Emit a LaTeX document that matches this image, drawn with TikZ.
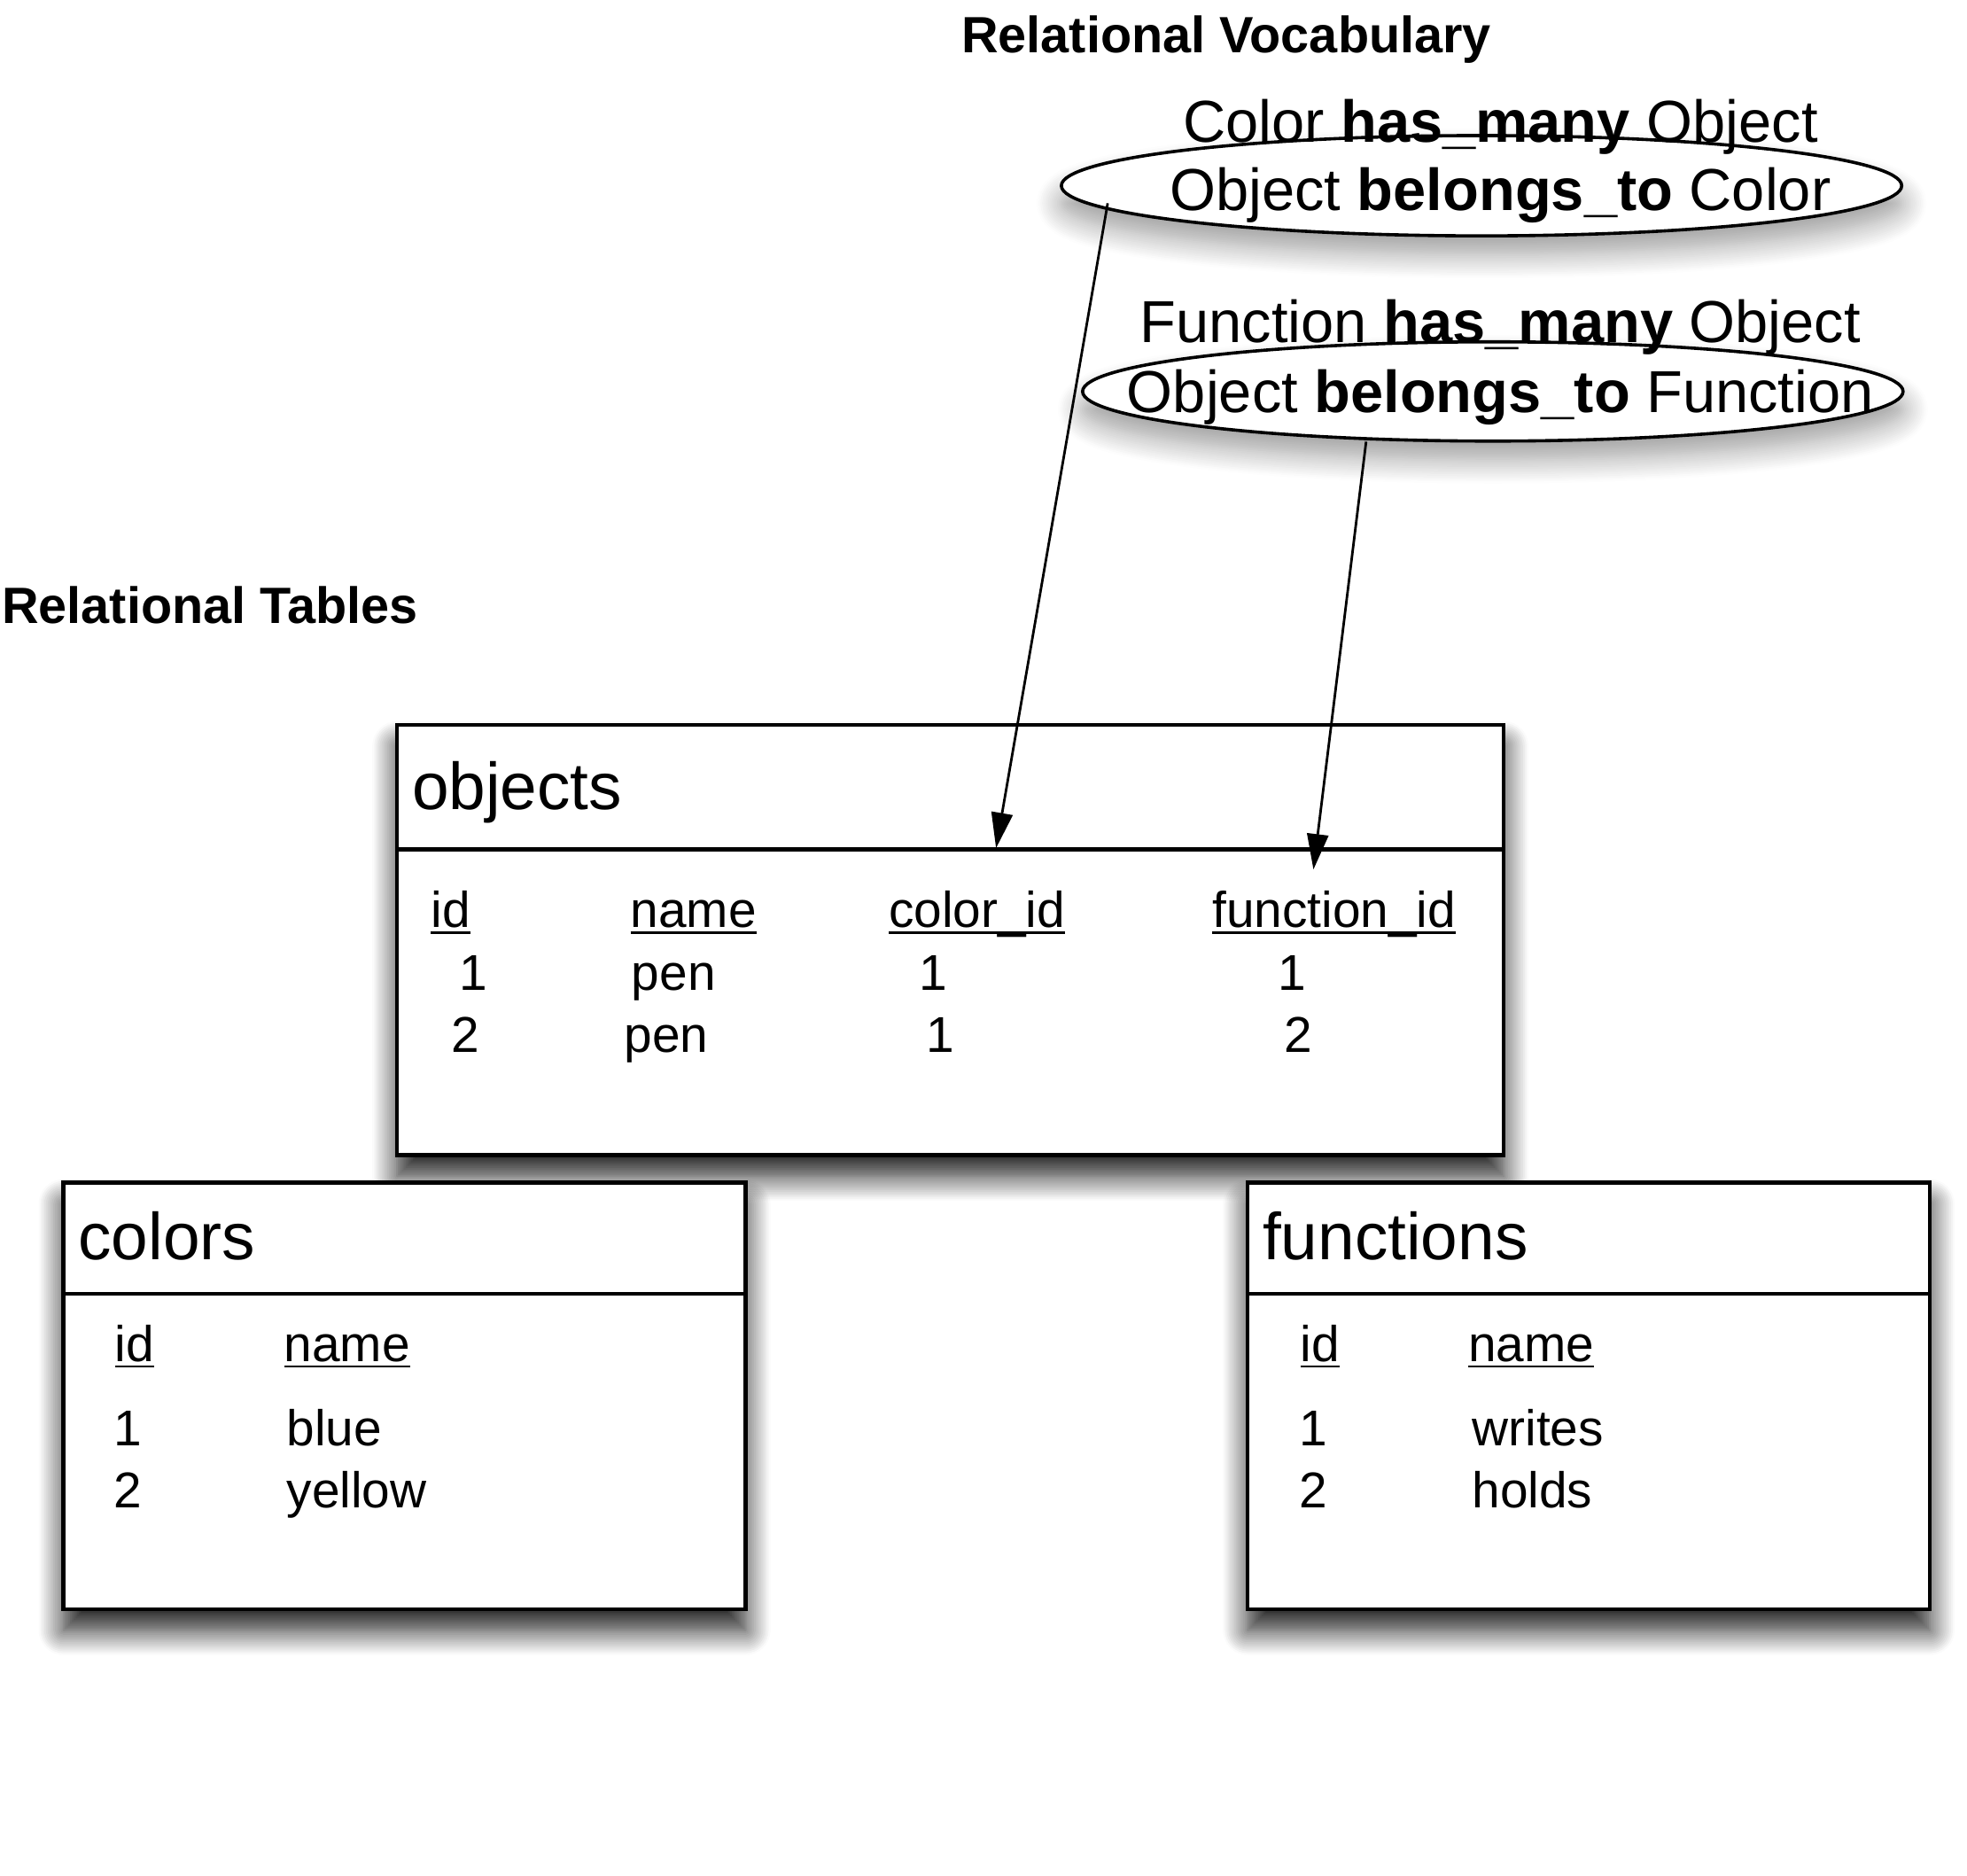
\documentclass[tikz,border=0pt]{standalone}
\usepackage{fontspec}
\setmainfont{Liberation Sans}
\usetikzlibrary{shapes.geometric,arrows.meta,shadows.blur}
\newcommand\myul[1]{\setbox0\hbox{#1}\rlap{\rule[-1.8pt]{\wd0}{0.55pt}}\box0}
\begin{document}
\begin{tikzpicture}[x=0.35395pt,y=-0.35395pt,
  tbl/.style={draw, line width=1.1pt, fill=white, anchor=north west, inner sep=0pt,
    blur shadow={shadow xshift=0pt, shadow yshift=-6pt, shadow blur radius=7pt, shadow blur steps=14, shadow opacity=90}},
  oval/.style={ellipse, draw, line width=0.9pt, fill=white, inner sep=0pt,
    blur shadow={shadow xshift=0pt, shadow yshift=-5pt, shadow blur radius=7pt, shadow blur steps=14, shadow opacity=40}},
  txt/.style={anchor=base west, inner sep=0pt, font=\fontsize{14.2}{17}\selectfont},
  ttl/.style={anchor=base west, inner sep=0pt, font=\fontsize{18.7}{22}\selectfont},
  hd/.style={anchor=base west, inner sep=0pt, font=\bfseries\fontsize{14.4}{17}\selectfont},
  voc/.style={anchor=base, inner sep=0pt, font=\fontsize{16.7}{20}\selectfont},
  arr/.style={line width=0.7pt, -{Triangle[length=10pt,width=6pt]}},
  sepline/.style={line width=1.1pt}
]
\useasboundingbox (0,0) rectangle (1568,1494.6);

% tables
\node[tbl, minimum width=312.2pt, minimum height=121.4pt] (objects) at (315,576) {};
\draw[sepline] (objects.west |- 0,677) -- (objects.east |- 0,677);
\node[tbl, minimum width=192.5pt, minimum height=120.3pt] (colors) at (49,941) {};
\draw[sepline] (colors.west |- 0,1031) -- (colors.east |- 0,1031);
\node[tbl, minimum width=192.5pt, minimum height=120.3pt] (functions) at (993,941) {};
\draw[sepline] (functions.west |- 0,1031) -- (functions.east |- 0,1031);

% ellipses
\node[oval, minimum width=237.1pt, minimum height=28.3pt] (e1) at (1181,148) {};
\node[oval, minimum width=231.5pt, minimum height=28pt] (e2) at (1190,312) {};

% arrows
\coordinate (a1s) at (883,162);
\coordinate (a1e) at (794,676);
\coordinate (a2s) at (1089,352);
\coordinate (a2e) at (1047,693);
\draw[arr] (a1s) -- (a1e);
\draw[arr] (a2s) -- (a2e);

% headings
\node[hd] (vtitle) at (766,42) {Relational Vocabulary};
\node[hd] (ttitle) at (1,497) {Relational Tables};

% vocabulary text
\node[voc] (e1a) at (1196,113) {Color \textbf{has\_many} Object};
\node[voc] (e1b) at (1196,168) {Object \textbf{belongs\_to} Color};
\node[voc] (e2a) at (1196,273) {Function \textbf{has\_many} Object};
\node[voc] (e2b) at (1196,329) {Object \textbf{belongs\_to} Function};

% objects table text
\node[ttl] (ot) at (328,645) {objects};
\node[txt] (oh1) at (343,739) {\myul{id}};
\node[txt] (oh2) at (502,739) {\myul{name}};
\node[txt] (oh3) at (708,739) {\myul{color\_id}};
\node[txt] (oh4) at (966,739) {\myul{function\_id}};
\node[txt] (o11) at (366,789) {1};
\node[txt] (o12) at (503,789) {pen};
\node[txt] (o13) at (732,789) {1};
\node[txt] (o14) at (1018,789) {1};
\node[txt] (o21) at (359,839) {2};
\node[txt] (o22) at (497,839) {pen};
\node[txt] (o23) at (738,839) {1};
\node[txt] (o24) at (1023,839) {2};

% colors table text
\node[ttl] (ct) at (62,1004) {colors};
\node[txt] (ch1) at (91,1085) {\myul{id}};
\node[txt] (ch2) at (226,1085) {\myul{name}};
\node[txt] (c11) at (90,1152) {1};
\node[txt] (c12) at (228,1152) {blue};
\node[txt] (c21) at (90,1202) {2};
\node[txt] (c22) at (228,1202) {yellow};

% functions table text
\node[ttl] (ft) at (1006,1004) {functions};
\node[txt] (fh1) at (1036,1085) {\myul{id}};
\node[txt] (fh2) at (1170,1085) {\myul{name}};
\node[txt] (f11) at (1035,1152) {1};
\node[txt] (f12) at (1173,1152) {writes};
\node[txt] (f21) at (1035,1202) {2};
\node[txt] (f22) at (1173,1202) {holds};
\end{tikzpicture}
\end{document}
